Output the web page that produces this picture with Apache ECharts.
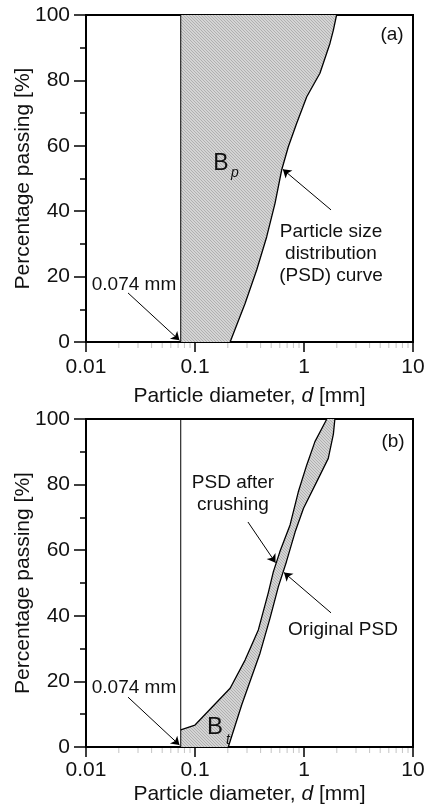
<!DOCTYPE html>
<html>
<head>
    <meta charset="UTF-8">
    <title>PSD</title>
    <style>
        html, body { margin: 0; padding: 0; background: #fff; }
        #container { width: 424px; height: 812px; }
    </style>
</head>
<body>
    <div id="container"></div>
    <script src="https://cdn.jsdelivr.net/npm/echarts@6/dist/echarts.min.js"></script>
    <script>
        // axis ticks
        var xTickLabels = ['0.01', '0.1', '1', '10'];
        var xMinorTicks = [0.02, 0.03, 0.04, 0.05, 0.06, 0.07, 0.08, 0.09,
                           0.2, 0.3, 0.4, 0.5, 0.6, 0.7, 0.8, 0.9,
                           2, 3, 4, 5, 6, 7, 8, 9];
        var sieveSize = 0.074;   // mm

        // (a) PSD curve  [d mm, % passing]
        var psdA = [[0.21, 0], [0.288, 11.8], [0.368, 22], [0.455, 32.2], [0.542, 42.4],
                    [0.624, 52.6], [0.718, 59.7], [0.857, 66.9], [1.06, 75], [1.40, 82.2],
                    [1.73, 91.3], [1.86, 95.4], [1.99, 100]];
        // (b) original PSD
        var psdOrigB = [[0.202, 0], [0.268, 12.8], [0.395, 28.6], [0.488, 39.3], [0.582, 48.9],
                        [0.69, 56.5], [0.83, 65.6], [0.99, 72.8], [1.31, 80.9], [1.67, 88],
                        [1.86, 95.4], [1.92, 100]];
        // (b) PSD after crushing
        var psdCrushB = [[0.074, 5.2], [0.1, 6.7], [0.21, 17.9], [0.288, 26.5], [0.381, 35.7],
                         [0.47, 47], [0.523, 53.4], [0.60, 59.5], [0.745, 67.7], [0.887, 77.8],
                         [1.06, 86], [1.26, 93.1], [1.62, 100]];

        // hatch fill
        var cv = document.createElement('canvas');
        cv.width = 3; cv.height = 3;
        var ctx = cv.getContext('2d');
        ctx.fillStyle = '#d4d4d4'; ctx.fillRect(0, 0, 3, 3);
        ctx.fillStyle = '#b0b0b0';
        for (var i = 0; i < 3; i++) ctx.fillRect(i, i, 1, 1);
        var hatch = { image: cv, repeat: 'repeat' };

        // region polygons built from the curves
        var polyA = [[sieveSize, 0]].concat(psdA, [[sieveSize, 100]]);
        var polyB = [[sieveSize, 0]].concat(psdOrigB, psdCrushB.slice().reverse());

        var font = 'Liberation Sans';
        var txt = '#111';

        function xAx(idx, gap, margin) {
            return {
                type: 'log', logBase: 10, gridIndex: idx, min: 0.01, max: 10,
                name: '{n|Particle diameter, }{i|d}{n| [mm]}',
                nameLocation: 'middle', nameGap: gap,
                nameTextStyle: {
                    rich: {
                        n: { fontFamily: font, fontSize: 21, color: txt },
                        i: { fontFamily: font, fontSize: 21, color: txt, fontStyle: 'italic' }
                    }
                },
                axisLine: { lineStyle: { color: '#000', width: 2 } },
                axisTick: { length: 10, lineStyle: { color: '#000', width: 1.5 } },
                minorTick: { show: false },
                splitLine: { show: false },
                axisLabel: {
                    margin: margin, fontFamily: font, fontSize: 21, color: txt,
                    formatter: function (v) {
                        var k = Math.round(Math.log10(v)) + 2;
                        return xTickLabels[k] || '';
                    }
                }
            };
        }
        function yAx(idx) {
            return {
                type: 'value', gridIndex: idx, min: 0, max: 100, interval: 20,
                name: 'Percentage passing [%]', nameLocation: 'middle', nameGap: 52,
                nameMoveOverlap: false,
                nameTextStyle: { fontFamily: font, fontSize: 21, color: txt },
                axisLine: { show: true, lineStyle: { color: '#000', width: 2 } },
                axisTick: { show: true, length: 12, lineStyle: { color: '#000', width: 1.5 } },
                minorTick: { show: true, splitNumber: 2, length: 6, lineStyle: { color: '#000', width: 1.5 } },
                splitLine: { show: false },
                axisLabel: { margin: 16, fontFamily: font, fontSize: 21, color: txt }
            };
        }

        function areaSeries(idx, poly) {
            return {
                type: 'custom', xAxisIndex: idx, yAxisIndex: idx, silent: true, z: 1,
                data: [[1, 50]],
                renderItem: function (params, api) {
                    return {
                        type: 'polygon',
                        shape: { points: poly.map(function (p) { return api.coord(p); }) },
                        style: { fill: hatch, stroke: null }
                    };
                }
            };
        }
        function minorTickSeries(idx) {
            return {
                type: 'custom', xAxisIndex: idx, yAxisIndex: idx, silent: true, z: 0,
                data: xMinorTicks.map(function (v) { return [v, 0]; }),
                renderItem: function (params, api) {
                    var p = api.coord([api.value(0), 0]);
                    return {
                        type: 'line',
                        shape: { x1: p[0], y1: p[1] + 1, x2: p[0], y2: p[1] + 6 },
                        style: { stroke: '#c4c4c4', lineWidth: 1 }
                    };
                }
            };
        }
        function curve(idx, data, arrows) {
            return {
                type: 'line', xAxisIndex: idx, yAxisIndex: idx, data: data,
                showSymbol: false, silent: true, z: 3,
                lineStyle: { color: '#000', width: 1.3 },
                markLine: {
                    silent: true, symbol: ['none', 'arrow'], symbolSize: 8,
                    label: { show: false },
                    lineStyle: { color: '#000', width: 1, type: 'solid' },
                    data: arrows.map(function (a) { return [{ coord: a[0] }, { coord: a[1] }]; })
                }
            };
        }
        function sieveLine(idx) {
            return {
                type: 'line', xAxisIndex: idx, yAxisIndex: idx,
                data: [[sieveSize, 0], [sieveSize, 100]],
                showSymbol: false, silent: true, z: 3,
                lineStyle: { color: '#000', width: 1 }
            };
        }

        function text(x, y, s, size, italic) {
            return {
                type: 'text', silent: true, z: 100,
                style: {
                    text: s, x: x, y: y, fill: txt,
                    font: (italic ? 'italic ' : '') + size + 'px "' + font + '"',
                    textAlign: 'center', textVerticalAlign: 'middle', lineHeight: 22
                }
            };
        }

        var myChart = echarts.init(document.getElementById('container'));
        myChart.setOption({
            animation: false,
            backgroundColor: '#fff',
            grid: [
                { left: 86, top: 15, width: 327, height: 327, outerBoundsMode: 'none', containLabel: false,
                  show: true, borderColor: '#000', borderWidth: 2 },
                { left: 86, top: 419, width: 327, height: 328, outerBoundsMode: 'none', containLabel: false,
                  show: true, borderColor: '#000', borderWidth: 2 }
            ],
            xAxis: [xAx(0, 44, 15), xAx(1, 37, 13)],
            yAxis: [yAx(0), yAx(1)],
            series: [
                areaSeries(0, polyA),
                minorTickSeries(0),
                sieveLine(0),
                curve(0, psdA, [
                    [[1.77, 40.4], [0.64, 52.8]],
                    [[0.0243, 15], [0.072, 0.5]]
                ]),
                areaSeries(1, polyB),
                minorTickSeries(1),
                sieveLine(1),
                curve(1, psdOrigB, [
                    [[1.77, 40.9], [0.655, 53.2]],
                    [[0.0243, 15.2], [0.072, 0.6]]
                ]),
                curve(1, psdCrushB, [
                    [[0.306, 68.6], [0.548, 56.2]]
                ])
            ],
            graphic: [
                text(392, 35, '(a)', 19),
                text(221, 164, 'B', 23),
                text(235, 173, 'p', 14, true),
                text(331, 254, 'Particle size\ndistribution\n(PSD) curve', 19),
                text(134, 285, '0.074 mm', 19),
                text(393, 442, '(b)', 19),
                text(233, 494, 'PSD after\ncrushing', 19),
                text(343, 630, 'Original PSD', 19),
                text(134, 688, '0.074 mm', 19),
                text(215, 727, 'B', 24),
                text(228, 740, 't', 14, true)
            ]
        });
    </script>
</body>
</html>
